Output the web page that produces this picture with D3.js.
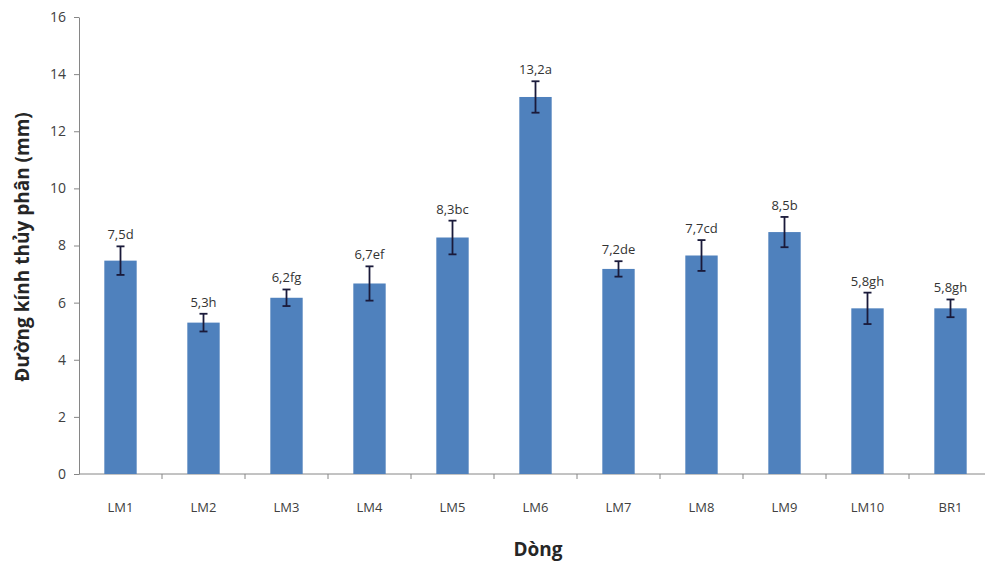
<!DOCTYPE html>
<html>

<head>
  <meta charset="utf8">
  <script src="https://d3js.org/d3.v7.min.js"></script>
  <style>
    body { margin: 0; background: #fff; }
    text { font-family: 'Open Sans', sans-serif; }
  </style>
</head>

<body>
  <svg id="chart" width="985" height="564"></svg>
  <script>
    // data
    var lines = ['LM1', 'LM2', 'LM3', 'LM4', 'LM5', 'LM6', 'LM7', 'LM8', 'LM9', 'LM10', 'BR1'];
    var means = [7.47, 5.3, 6.17, 6.67, 8.28, 13.2, 7.18, 7.65, 8.47, 5.8, 5.8];
    var errs = [0.5, 0.31, 0.29, 0.6, 0.59, 0.55, 0.27, 0.54, 0.53, 0.55, 0.31];
    var labels = ['7,5d', '5,3h', '6,2fg', '6,7ef', '8,3bc', '13,2a', '7,2de', '7,7cd', '8,5b', '5,8gh', '5,8gh'];
    var yTicks = [0, 2, 4, 6, 8, 10, 12, 14, 16];

    var chart = d3.select('#chart');
    var plot = { left: 79, right: 992, top: 17, bottom: 474 };

    var x = d3.scaleBand()
      .domain(lines)
      .range([plot.left, plot.right])
      .paddingInner(0.61)
      .paddingOuter(0.305);

    var y = d3.scaleLinear()
      .domain([0, 16])
      .range([plot.bottom, plot.top]);

    var axisColor = '#868686';

    // y axis
    var yAxis = chart.append('g')
      .attr('transform', 'translate(' + plot.left + ',0)')
      .call(d3.axisLeft(y).tickValues(yTicks).tickSize(5).tickPadding(8).tickSizeOuter(0));
    yAxis.select('.domain').attr('stroke', axisColor);
    yAxis.selectAll('.tick line').attr('stroke', axisColor);
    yAxis.selectAll('text').attr('fill', '#404040').style('font-size', '14px')
      .style('font-family', "'Open Sans', sans-serif");

    // x axis line + ticks at category boundaries
    chart.append('line')
      .attr('x1', plot.left).attr('x2', plot.right)
      .attr('y1', plot.bottom).attr('y2', plot.bottom)
      .attr('stroke', axisColor);
    var step = x.step();
    chart.selectAll('.xtick')
      .data(lines.slice(1))
      .enter().append('line')
      .attr('x1', (d) => x(d) - x.paddingInner() * step / 2)
      .attr('x2', (d) => x(d) - x.paddingInner() * step / 2)
      .attr('y1', plot.bottom).attr('y2', plot.bottom + 5)
      .attr('stroke', axisColor);

    chart.selectAll('.xlabel')
      .data(lines)
      .enter().append('text')
      .attr('x', (d) => x(d) + x.bandwidth() / 2)
      .attr('y', plot.bottom + 38)
      .attr('text-anchor', 'middle')
      .attr('fill', '#404040')
      .style('font-size', '13px')
      .text((d) => d);

    // bars
    chart.selectAll('.bar')
      .data(lines)
      .enter().append('rect')
      .attr('x', (d) => x(d))
      .attr('width', x.bandwidth())
      .attr('y', (d, i) => y(means[i]))
      .attr('height', (d, i) => y(0) - y(means[i]))
      .attr('fill', '#4F81BD');

    // error bars
    var eb = chart.selectAll('.err')
      .data(lines)
      .enter().append('g')
      .attr('stroke', '#1a1a3a')
      .attr('stroke-width', 1.8);
    eb.append('line')
      .attr('x1', (d) => x(d) + x.bandwidth() / 2)
      .attr('x2', (d) => x(d) + x.bandwidth() / 2)
      .attr('y1', (d, i) => y(means[i] + errs[i]))
      .attr('y2', (d, i) => y(means[i] - errs[i]));
    [1, -1].forEach((s) => {
      eb.append('line')
        .attr('x1', (d) => x(d) + x.bandwidth() / 2 - 4)
        .attr('x2', (d) => x(d) + x.bandwidth() / 2 + 4)
        .attr('y1', (d, i) => y(means[i] + s * errs[i]))
        .attr('y2', (d, i) => y(means[i] + s * errs[i]));
    });

    // value labels
    chart.selectAll('.vlabel')
      .data(lines)
      .enter().append('text')
      .attr('x', (d) => x(d) + x.bandwidth() / 2)
      .attr('y', (d, i) => y(means[i] + errs[i]) - 7)
      .attr('text-anchor', 'middle')
      .attr('fill', '#333')
      .style('font-size', '13px')
      .text((d, i) => labels[i]);

    // axis titles
    chart.append('text')
      .attr('x', 538).attr('y', 556)
      .attr('text-anchor', 'middle')
      .attr('fill', '#262626')
      .style('font-size', '19px')
      .style('font-weight', 'bold')
      .text('Dòng');

    chart.append('text')
      .attr('transform', 'translate(29,' + 247 + ') rotate(-90)')
      .attr('text-anchor', 'middle')
      .attr('fill', '#262626')
      .style('font-size', '19px')
      .style('font-weight', 'bold')
      .text('Đường kính thủy phân (mm)');
  </script>
</body>

</html>
